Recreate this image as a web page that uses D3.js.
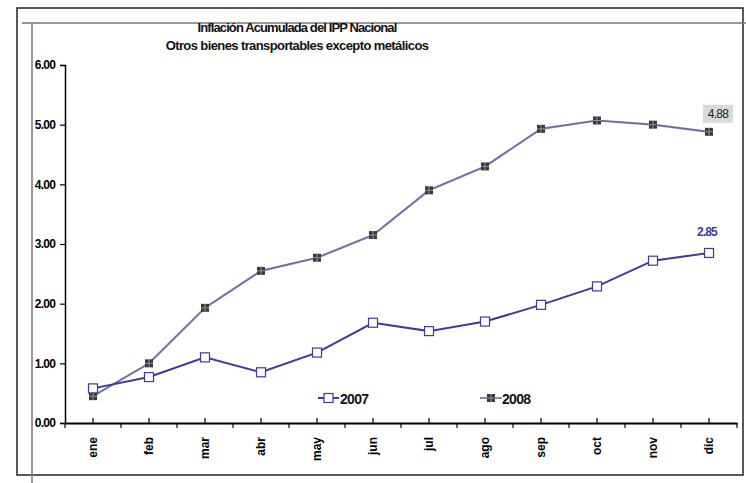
<!DOCTYPE html>
<html><head><meta charset="utf-8">
<script src="https://cdn.jsdelivr.net/npm/d3@7"></script>
<style>body{margin:0;background:#fff}svg{display:block}text{font-family:"Liberation Sans",Arial,sans-serif}</style>
</head><body><svg id="c" width="746" height="483"></svg>
<script>
const months = ["ene","feb","mar","abr","may","jun","jul","ago","sep","oct","nov","dic"];
const s2007 = [0.58,0.77,1.10,0.85,1.18,1.68,1.54,1.70,1.98,2.29,2.72,2.85];
const s2008 = [0.45,1.00,1.93,2.55,2.77,3.15,3.90,4.30,4.93,5.07,5.00,4.88];
const yTicks = [0,1,2,3,4,5,6];
const titles = ["Inflación Acumulada del IPP Nacional","Otros bienes transportables excepto metálicos"];

const svg = d3.select("#c");
svg.append("rect").attr("x",17).attr("y",8).attr("width",726).attr("height",467)
  .attr("fill","none").attr("stroke","#222").attr("stroke-width",1.5);
svg.append("line").attr("x1",22).attr("x2",746).attr("y1",23).attr("y2",23).attr("stroke","#777").attr("stroke-width",1.5);
svg.append("line").attr("x1",32).attr("x2",32).attr("y1",23).attr("y2",483).attr("stroke","#777").attr("stroke-width",1.5);

const x0=65, x1=737, yTop=65, yBot=423;
const x = d3.scaleBand().domain(months).range([x0,x1]);
const y = d3.scaleLinear().domain([0,6]).range([yBot,yTop]);

svg.selectAll("text.title").data(titles).join("text")
  .attr("x",297).attr("y",(d,i)=>32+i*18).attr("text-anchor","middle")
  .attr("font-size",13).attr("font-weight","bold").attr("letter-spacing",(d,i)=>i?-0.6:-0.9)
  .attr("fill","#111").text(d=>d);

const yAxis = d3.axisLeft(y).tickValues(yTicks).tickFormat(d3.format(".2f")).tickSize(5).tickPadding(5);
const gy = svg.append("g").attr("transform",`translate(${x0},0)`).call(yAxis);
gy.select(".domain").attr("stroke","#000").attr("stroke-width",1.5);
gy.selectAll(".tick line").attr("stroke","#000").attr("stroke-width",1.2);
gy.selectAll("text").attr("font-size",12).attr("font-weight","bold").attr("letter-spacing",-0.8).attr("fill","#000").attr("font-family","Liberation Sans, Arial, sans-serif");

const xAxis = d3.axisBottom(x).tickSize(0).tickPadding(0);
const gx = svg.append("g").attr("transform",`translate(0,${yBot})`).call(xAxis);
gx.select(".domain").attr("stroke","#000").attr("stroke-width",2);
gx.selectAll(".tick text").attr("font-size",12).attr("font-weight","bold").attr("fill","#000")
  .attr("font-family","Liberation Sans, Arial, sans-serif")
  .attr("transform","translate(4,14) rotate(-90)").attr("text-anchor","end").attr("dy",0).attr("y",0).attr("x",0);
const bounds = months.map(m=>x(m)).concat([x1]);
svg.append("g").selectAll("line").data(bounds).join("line")
  .attr("x1",d=>d).attr("x2",d=>d).attr("y1",yBot).attr("y2",yBot+5).attr("stroke","#000").attr("stroke-width",1.2);
svg.append("g").selectAll("line").data(months).join("line")
  .attr("x1",d=>x(d)+x.bandwidth()/2).attr("x2",d=>x(d)+x.bandwidth()/2).attr("y1",yBot).attr("y2",yBot-5).attr("stroke","#000").attr("stroke-width",1.2);

const cx = m => x(m)+x.bandwidth()/2;
const line = d3.line().x((d,i)=>cx(months[i])).y(d=>y(d));

svg.append("path").datum(s2008).attr("d",line).attr("fill","none").attr("stroke","#8a88b8").attr("stroke-width",2.2);
svg.append("path").datum(s2008).attr("d",line).attr("fill","none").attr("stroke","#5a5890").attr("stroke-width",0.8);
svg.append("path").datum(s2007).attr("d",line).attr("fill","none").attr("stroke","#3a3aa0").attr("stroke-width",2);

function mark2008(g, px, py){
  g.append("rect").attr("x",px-4).attr("y",py-4).attr("width",8).attr("height",8).attr("fill","#3a3a3a");
  g.append("line").attr("x1",px).attr("x2",px).attr("y1",py-4).attr("y2",py+4).attr("stroke","#aaa").attr("stroke-width",0.8);
  g.append("line").attr("x1",px-4).attr("x2",px+4).attr("y1",py).attr("y2",py).attr("stroke","#aaa").attr("stroke-width",0.8);
}
const g08 = svg.append("g");
s2008.forEach((v,i)=>mark2008(g08,cx(months[i]),y(v)));
svg.append("g").selectAll("rect").data(s2007).join("rect")
  .attr("x",(d,i)=>cx(months[i])-4.5).attr("y",d=>y(d)-4.5).attr("width",9).attr("height",9)
  .attr("fill","#fff").attr("stroke","#3a3aa0").attr("stroke-width",1.2);

const last = months.length-1;
const lx = cx(months[last]);
svg.append("rect").attr("x",lx-6).attr("y",y(s2008[last])-27).attr("width",30).attr("height",18).attr("fill","#d9d9d9");
svg.append("text").attr("x",lx+9).attr("y",y(s2008[last])-14).attr("text-anchor","middle")
  .attr("font-size",12).attr("letter-spacing",-0.7).attr("fill","#222").text(d3.format(".2f")(s2008[last]));
svg.append("text").attr("x",lx-2).attr("y",y(s2007[last])-17).attr("text-anchor","middle")
  .attr("font-size",12).attr("font-weight","bold").attr("letter-spacing",-0.9).attr("fill","#3a3aa0").text(d3.format(".2f")(s2007[last]));

const lg = svg.append("g");
lg.append("line").attr("x1",318).attr("x2",339).attr("y1",398).attr("y2",398).attr("stroke","#3a3aa0").attr("stroke-width",2);
lg.append("rect").attr("x",324).attr("y",393.5).attr("width",9).attr("height",9).attr("fill","#fff").attr("stroke","#3a3aa0").attr("stroke-width",1.2);
lg.append("text").attr("x",340).attr("y",403.5).attr("font-size",14).attr("font-weight","bold").attr("letter-spacing",-0.7).attr("fill","#111").text("2007");
lg.append("line").attr("x1",480).attr("x2",502).attr("y1",398).attr("y2",398).attr("stroke","#8a88b8").attr("stroke-width",2);
mark2008(lg,491,398);
lg.append("text").attr("x",502).attr("y",403.5).attr("font-size",14).attr("font-weight","bold").attr("letter-spacing",-0.7).attr("fill","#111").text("2008");
</script></body></html>
